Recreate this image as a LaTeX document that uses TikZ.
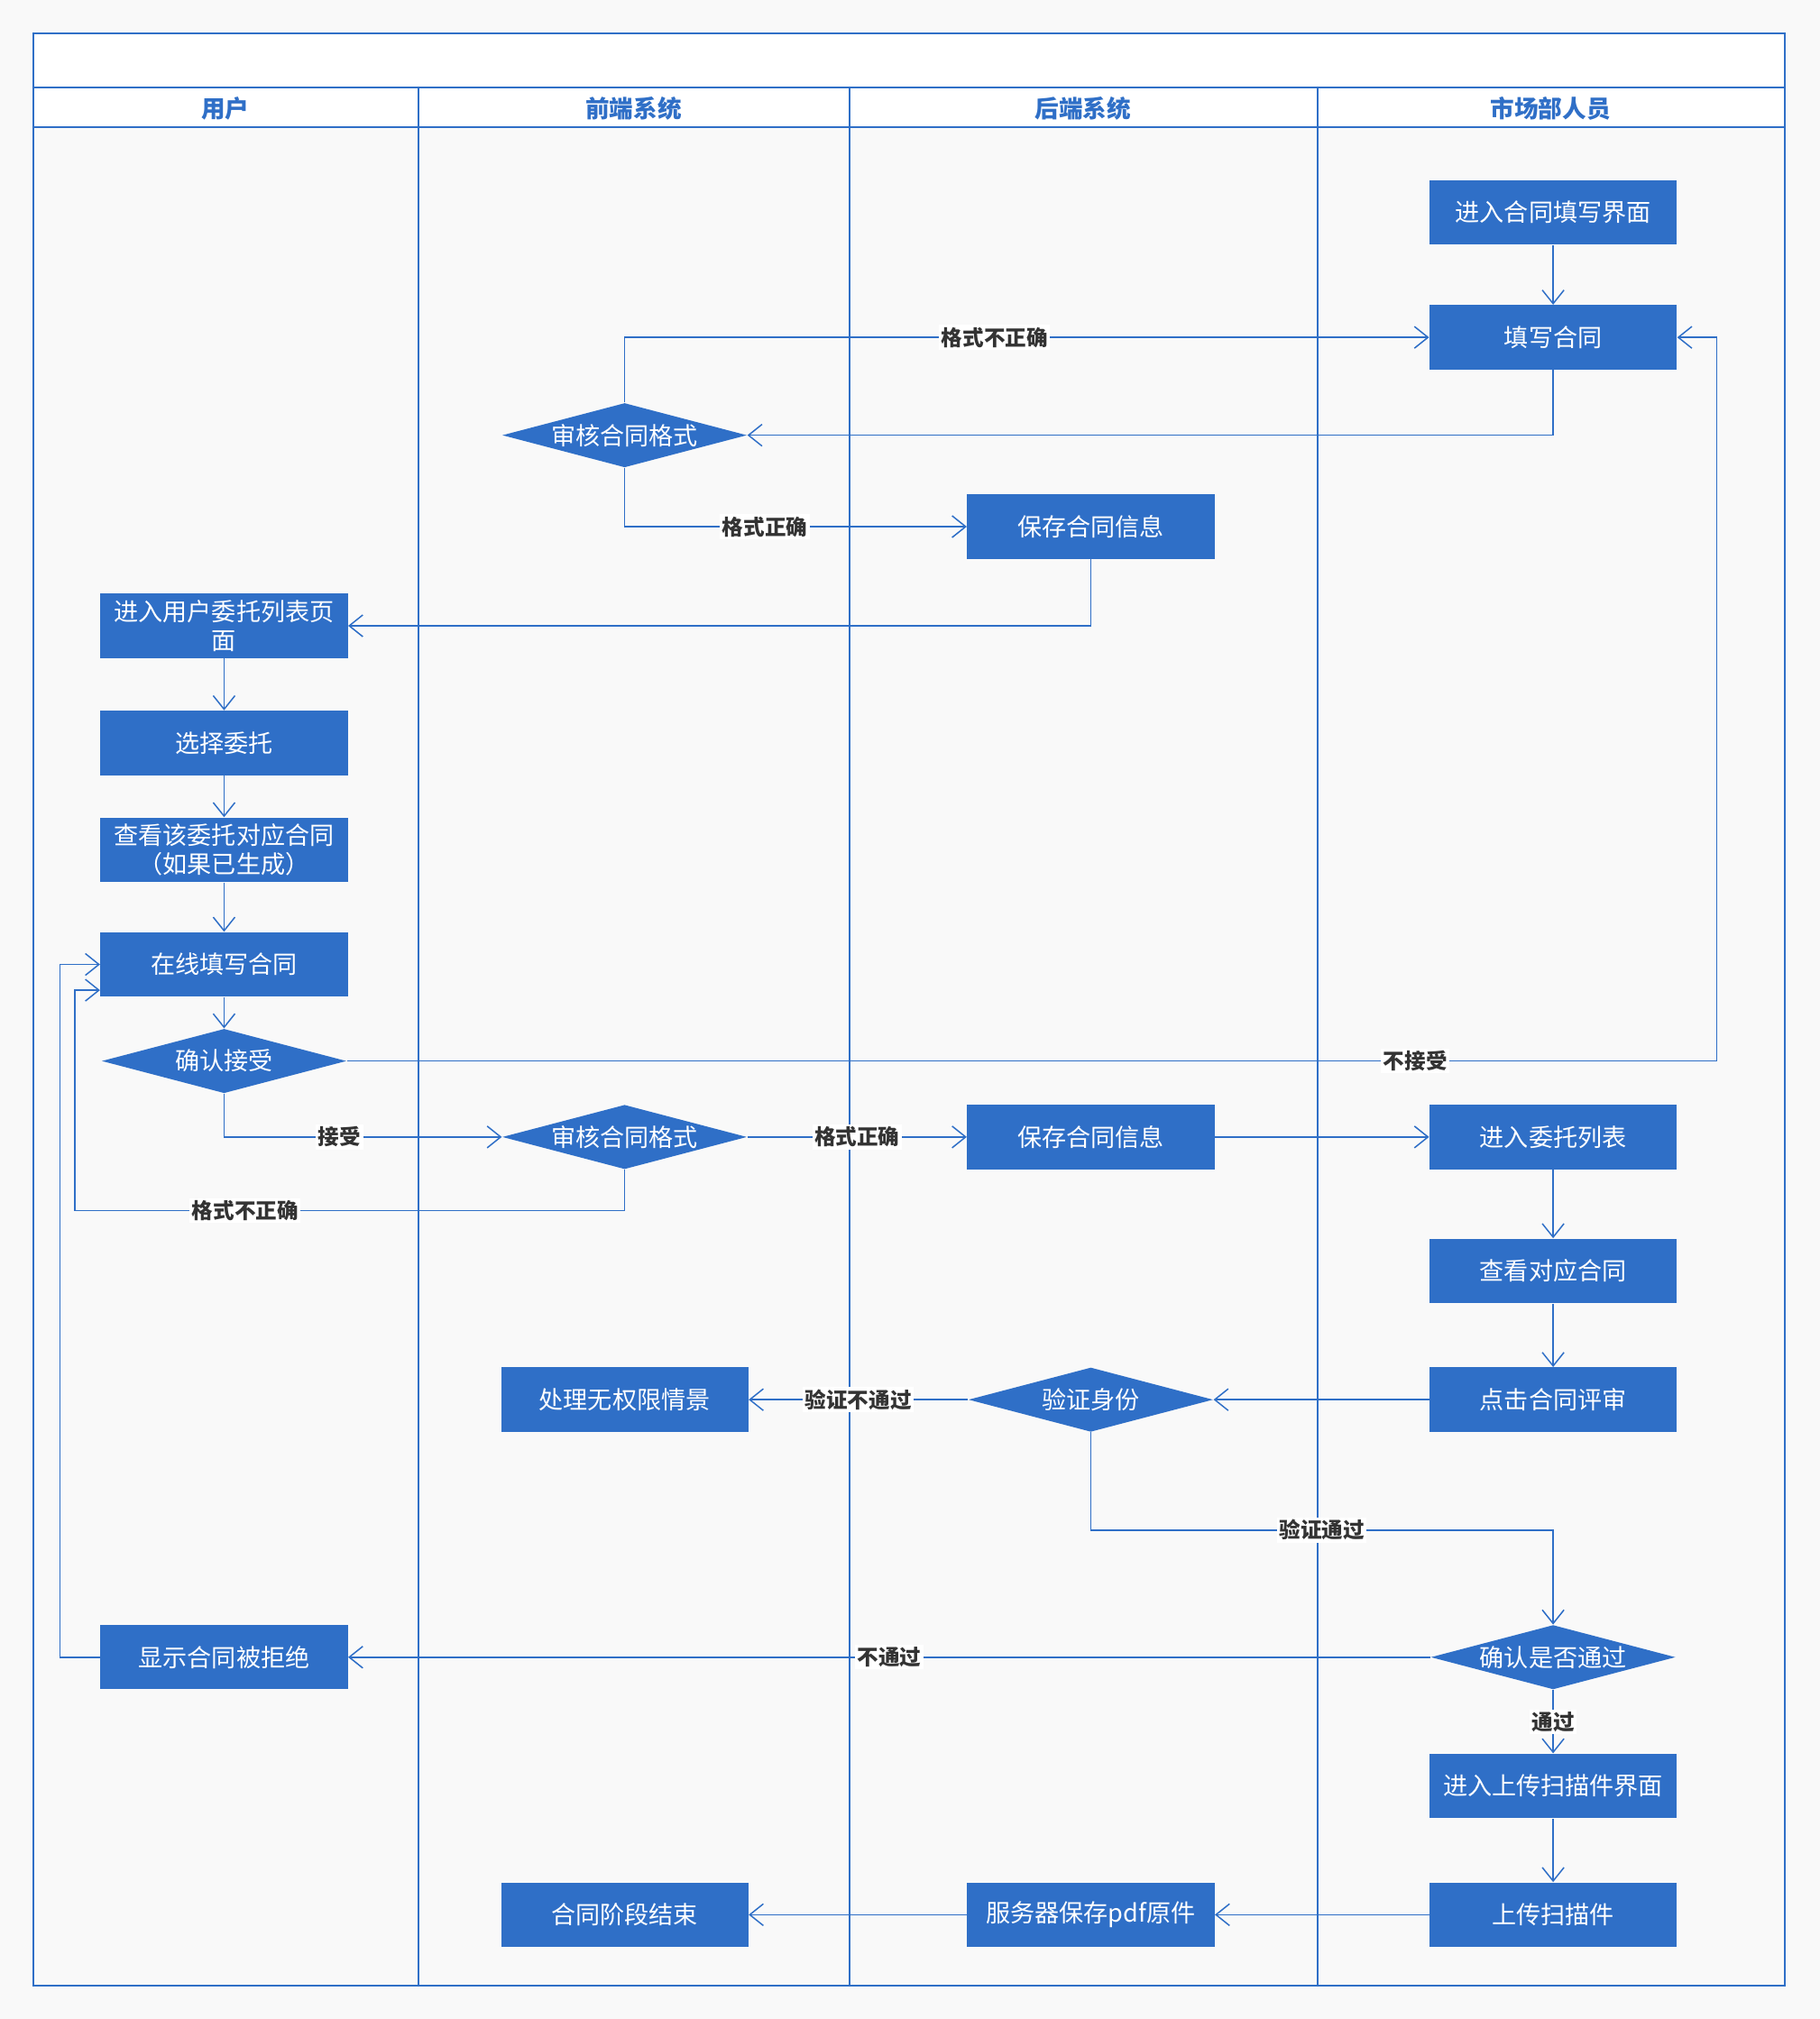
\documentclass[tikz,border=0pt]{standalone}
\usepackage{fontspec}
\setmainfont{Noto Sans CJK SC}
\usetikzlibrary{shapes.geometric,arrows.meta}
\definecolor{laneblue}{HTML}{2F6FC7}
\definecolor{pagegray}{HTML}{F9F9F9}

\begin{document}
\begin{tikzpicture}[x=0.02cm,y=-0.02cm,
  box/.style={fill=laneblue, text=white, minimum width=3.84cm, minimum height=1cm, align=center, inner sep=1pt, font=\fontsize{10.8}{13}\selectfont},
  choice/.style={diamond, aspect=3.8, fill=laneblue, text=white, minimum width=3.8cm, minimum height=1cm, inner sep=0pt, font=\fontsize{10.8}{13}\selectfont},
  flow/.style={draw=laneblue, line width=0.6pt, -{Straight Barb[length=6pt,width=9.6pt]}},
  lbl/.style={fill=white, text=black!80, inner sep=1pt, font=\bfseries\fontsize{9.4}{11}\selectfont},
  head/.style={text=laneblue, font=\bfseries\fontsize{10.6}{12}\selectfont},
  lane/.style={draw=laneblue, line width=0.8pt}]
\useasboundingbox[fill=pagegray] (0,0) rectangle (1413,1568);
\fill[white] (26,26) rectangle (1386,99);
\draw[lane] (26,26) rectangle (1386,1542);
\draw[lane] (26,68) -- (1386,68);
\draw[lane] (26,99) -- (1386,99);
\foreach \lx in {325,660,1023} {
    \draw[lane] (\lx,68) -- (\lx,1542);
}
\foreach \cx/\title/\tag in {175/用户/user, 492/前端系统/front, 841/后端系统/back, 1204/市场部人员/market} {
    \node[head] (\tag) at (\cx,84) {\title};
}

\node[box] (enter) at (1206,165) {进入合同填写界面};
\node[box] (fill) at (1206,262) {填写合同};
\node[choice] (check) at (485,338) {审核合同格式};
\node[box] (save) at (847,409) {保存合同信息};
\node[box] (list) at (174,486) {进入用户委托列表页\\面};
\node[box] (pick) at (174,577) {选择委托};
\node[box] (view) at (174,660) {查看该委托对应合同\\（如果已生成）};
\node[box] (online) at (174,749) {在线填写合同};
\node[choice] (accept) at (174,824) {确认接受};
\node[choice] (recheck) at (485,883) {审核合同格式};
\node[box] (resave) at (847,883) {保存合同信息};
\node[box] (tasks) at (1206,883) {进入委托列表};
\node[box] (lookup) at (1206,987) {查看对应合同};
\node[box] (review) at (1206,1087) {点击合同评审};
\node[choice] (verify) at (847,1087) {验证身份};
\node[box] (deny) at (485,1087) {处理无权限情景};
\node[choice] (pass) at (1206,1287) {确认是否通过};
\node[box] (reject) at (174,1287) {显示合同被拒绝};
\node[box] (scanui) at (1206,1387) {进入上传扫描件界面};
\node[box] (upload) at (1206,1487) {上传扫描件};
\node[box] (pdf) at (847,1487) {服务器保存pdf原件};
\node[box] (done) at (485,1487) {合同阶段结束};

\draw[flow] (enter) -- (fill);
\draw[flow] (fill.south) |- (check.east);
\draw[flow] (check.north) |- node[lbl,pos=0.73] {格式不正确} (fill.west);
\draw[flow] (check.south) |- node[lbl,pos=0.705] {格式正确} (save.west);
\draw[flow] (save.south) |- (list.east);
\draw[flow] (list) -- (pick);
\draw[flow] (pick) -- (view);
\draw[flow] (view) -- (online);
\draw[flow] (online) -- (accept);
\draw[flow] (accept.east) -| node[lbl,pos=0.39] {不接受} (1333,262) -- (fill.east);
\draw[flow] (accept.south) |- node[lbl,pos=0.708] {接受} (recheck.west);
\draw[flow] (recheck) -- node[lbl] {格式正确} (resave);
\draw[flow] (recheck.south) |- node[lbl,pos=0.845] {格式不正确} (58,940) |- ([yshift=-0.4cm]online.west);
\draw[flow] (resave) -- (tasks);
\draw[flow] (tasks) -- (lookup);
\draw[flow] (lookup) -- (review);
\draw[flow] (review) -- (verify);
\draw[flow] (verify) -- node[lbl] {验证不通过} (deny);
\draw[flow] (verify.south) -- ++(0,76) -| node[lbl,pos=0.25] {验证通过} (pass.north);
\draw[flow] (pass) -- node[lbl] {不通过} (reject);
\draw[flow] (reject.west) -- ++(-31,0) |- (online.west);
\draw[flow] (pass) -- node[lbl] {通过} (scanui);
\draw[flow] (scanui) -- (upload);
\draw[flow] (upload) -- (pdf);
\draw[flow] (pdf) -- (done);
\end{tikzpicture}
\end{document}
